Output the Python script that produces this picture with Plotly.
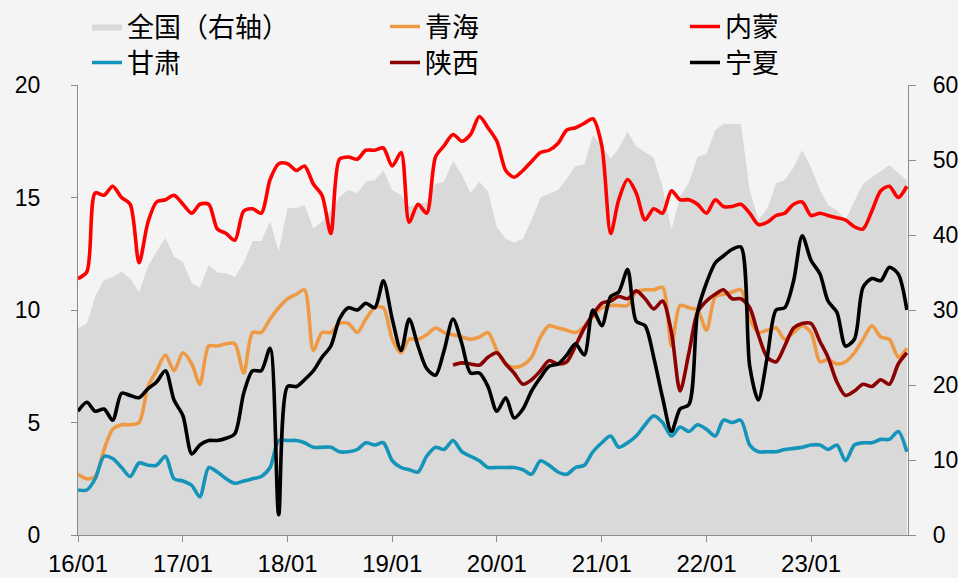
import pandas as pd
import plotly.graph_objects as go

dates = pd.date_range("2016-01-01", periods=96, freq="MS")

national = [27.6, 28.2, 31.8, 34.0, 34.4, 35.1, 34.2, 32.4, 35.8, 37.8, 39.6, 37.1,
            36.4, 33.6, 33.0, 36.0, 35.0, 34.9, 34.4, 36.3, 39.2, 39.2, 41.8, 37.8,
            43.6, 43.6, 44.0, 40.9, 41.8, 43.3, 45.1, 46.0, 45.6, 47.1, 47.3, 48.6,
            46.0, 45.3, 43.8, 44.1, 44.4, 46.8, 47.1, 49.9, 48.0, 45.6, 47.1, 45.8,
            41.0, 39.5, 39.0, 39.5, 42.0, 45.0, 45.5, 46.0, 47.5, 49.2, 49.4, 53.3,
            51.8, 50.2, 51.5, 53.8, 51.8, 51.0, 50.3, 46.4, 40.7, 45.1, 47.0, 50.4,
            50.8, 54.0, 54.8, 54.8, 54.8, 46.0, 42.0, 43.5, 46.9, 47.3, 49.0, 51.3,
            49.0, 46.0, 44.0, 43.3, 42.0, 44.5, 46.8, 47.7, 48.5, 49.3, 48.3, 47.3]

qinghai = [2.7, 2.5, 2.6, 3.8, 4.7, 4.9, 4.9, 5.0, 6.6, 7.3, 8.0, 7.3,
           8.1, 7.6, 6.7, 8.4, 8.4, 8.5, 8.5, 7.2, 9.0, 9.0, 9.6, 10.1,
           10.5, 10.7, 10.9, 8.2, 9.0, 9.0, 9.4, 9.4, 9.0, 9.6, 10.1, 10.1,
           8.7, 8.1, 8.7, 8.7, 8.9, 9.2, 9.0, 8.9, 8.8, 8.7, 8.8, 9.0,
           8.2, 7.6, 7.45, 7.55, 7.9, 8.8, 9.3, 9.2, 9.1, 9.0, 9.25, 9.7,
           10.1, 10.2, 10.2, 10.2, 10.8, 10.9, 10.9, 11.0, 8.4, 10.2, 10.1, 10.0,
           9.1, 10.6, 10.7, 10.8, 10.9, 9.6, 9.0, 9.1, 9.2, 8.7, 9.0, 9.3,
           9.0, 7.7, 7.8, 7.6, 7.7, 8.1, 8.7, 9.3, 8.8, 8.7, 7.9, 8.3]

neimeng = [11.4, 11.7, 15.2, 15.1, 15.5, 15.0, 14.7, 12.1, 13.9, 14.8, 14.9, 15.1,
           14.7, 14.3, 14.7, 14.7, 13.6, 13.4, 13.1, 14.4, 14.5, 14.3, 15.8, 16.5,
           16.5, 16.2, 16.4, 15.6, 15.1, 13.4, 16.7, 16.8, 16.7, 17.1, 17.1, 17.2,
           16.4, 17.0, 13.9, 14.7, 14.3, 16.8, 17.3, 17.8, 17.5, 17.8, 18.6, 18.1,
           17.5, 16.2, 15.9, 16.2, 16.6, 17.0, 17.1, 17.4, 18.0, 18.1, 18.3, 18.5,
           17.3, 13.4, 14.9, 15.8, 15.2, 14.0, 14.5, 14.3, 15.3, 14.9, 14.9, 14.7,
           14.3, 14.9, 14.6, 14.6, 14.7, 14.3, 13.8, 13.9, 14.2, 14.3, 14.7, 14.8,
           14.2, 14.3, 14.2, 14.1, 14.0, 13.7, 13.6, 14.4, 15.3, 15.5, 15.0, 15.5]

gansu = [2.0, 2.0, 2.5, 3.5, 3.4, 3.0, 2.6, 3.2, 3.1, 3.1, 3.5, 2.5,
         2.4, 2.2, 1.7, 3.0, 2.8, 2.5, 2.3, 2.4, 2.5, 2.6, 3.0, 4.2,
         4.2, 4.2, 4.1, 3.9, 3.9, 3.9, 3.7, 3.7, 3.8, 4.1, 4.0, 4.1,
         3.3, 3.0, 2.9, 2.8, 3.5, 3.9, 3.8, 4.2, 3.7, 3.5, 3.3, 3.0,
         3.0, 3.0, 3.0, 2.9, 2.7, 3.3, 3.1, 2.8, 2.7, 3.0, 3.1, 3.7,
         4.1, 4.4, 3.9, 4.1, 4.4, 4.9, 5.3, 5.0, 4.4, 4.8, 4.6, 4.9,
         4.7, 4.4, 5.1, 5.0, 5.1, 4.0, 3.7, 3.7, 3.7, 3.8, 3.85, 3.9,
         4.0, 4.0, 3.8, 4.0, 3.3, 4.0, 4.1, 4.1, 4.25, 4.25, 4.6, 3.7]

shaanxi = [None] * 43 + [
    7.55, 7.65, 7.6, 7.55, 7.9,
    8.1, 7.6, 7.2, 6.7, 6.9, 7.3, 7.75, 7.6, 7.7, 8.4, 9.2, 9.8,
    10.3, 10.4, 10.6, 10.5, 10.85, 10.5, 10.05, 10.4, 9.0, 6.4, 8.1, 9.9,
    10.4, 10.7, 10.9, 10.5, 10.5, 10.1, 8.9, 7.9, 7.7, 8.4, 9.2, 9.4,
    9.4, 8.6, 7.9, 6.8, 6.2, 6.4, 6.7, 6.6, 6.9, 6.7, 7.6, 8.1]

ningxia = [5.5, 5.9, 5.5, 5.6, 5.1, 6.3, 6.2, 6.1, 6.5, 6.8, 7.3, 6.0,
           5.3, 3.6, 4.0, 4.2, 4.2, 4.3, 4.5, 6.3, 7.3, 7.3, 8.3, 0.9,
           6.6, 6.6, 6.9, 7.3, 7.9, 8.4, 9.6, 10.1, 10.0, 10.3, 10.1, 11.3,
           9.6, 8.2, 9.6, 8.4, 7.4, 7.1, 8.2, 9.6, 8.5, 7.2, 7.2, 6.6,
           5.5, 6.1, 5.2, 5.6, 6.4, 7.0, 7.5, 7.6, 8.0, 8.5, 8.0, 10.0,
           9.3, 10.6, 10.8, 11.8, 9.5, 9.3, 7.9, 6.1, 4.6, 5.6, 5.8, 9.9,
           11.2, 12.1, 12.4, 12.7, 12.8, 7.5, 6.0, 7.9, 10.0, 10.1, 11.3, 13.3,
           12.2, 11.6, 10.4, 9.9, 8.4, 8.7, 11.0, 11.4, 11.3, 11.9, 11.6, 10.0]

line_series = [
    ("青海", qinghai, "#EE9A45", "legend2"),
    ("内蒙", neimeng, "#FF0000", "legend3"),
    ("甘肃", gansu, "#1494B8", "legend4"),
    ("陕西", shaanxi, "#8B0000", "legend5"),
    ("宁夏", ningxia, "#000000", "legend6"),
]

fig = go.Figure()
fig.add_trace(go.Scatter(
    x=dates, y=national, name="全国（右轴）", yaxis="y",
    mode="lines", fill="tozeroy", fillcolor="#D9D9D9",
    line=dict(width=0, color="#D9D9D9"), legend="legend"))

for name, vals, color, leg in line_series:
    fig.add_trace(go.Scatter(
        x=dates, y=vals, name=name, mode="lines", yaxis="y2",
        line=dict(color=color, width=3.6, shape="spline", smoothing=0.8),
        connectgaps=False, legend=leg))

W, H = 958, 578
leg_font = dict(family="Noto Sans CJK SC", size=27, color="#000000")
row_py = [27, 63]
col_px = [87, 385, 685]
legend_names = ["legend", "legend2", "legend3", "legend4", "legend5", "legend6"]
legend_layout = {}
for i, ln in enumerate(legend_names):
    px = col_px[i % 3]
    py = row_py[i // 3]
    legend_layout[ln] = dict(x=px / W, y=1 - py / H, xref="container",
                             yref="container", xanchor="left",
                             yanchor="middle", bgcolor="rgba(0,0,0,0)",
                             font=leg_font, itemwidth=30)

axis_color = "#8C8C8C"
xtick_font = dict(family="Liberation Sans", size=24, color="#000000")
ytick_font = dict(family="Liberation Sans", size=23, color="#000000")

fig.update_layout(
    width=W, height=H,
    margin=dict(l=78, r=50, t=85, b=43, autoexpand=False),
    paper_bgcolor="#F4F4F4", plot_bgcolor="#F4F4F4",
    showlegend=True,
    xaxis=dict(
        range=["2016-01-01", "2023-12-05"], tickformat="%y/%m",
        tick0="2016-01-01", dtick="M12", ticks="outside", ticklen=6,
        tickcolor=axis_color, showline=True, linecolor=axis_color,
        linewidth=1.2, showgrid=False, zeroline=False, tickfont=xtick_font,
        automargin=False, ticklabelstandoff=1),
    yaxis=dict(
        range=[0, 60], dtick=10, side="right",
        ticks="outside", ticklen=7, tickcolor=axis_color, showline=True,
        linecolor=axis_color, linewidth=1.2, showgrid=False, zeroline=False,
        tickfont=ytick_font, automargin=False, ticklabelstandoff=12),
    yaxis2=dict(
        range=[0, 20], dtick=5, overlaying="y", side="left",
        ticks="outside", ticklen=6, tickcolor=axis_color, showline=True,
        linecolor=axis_color, linewidth=1.2, showgrid=False, zeroline=False,
        tickfont=ytick_font, automargin=False, ticklabelstandoff=26),
    **legend_layout,
)

fig.write_html(
    "out.html",
    config={"displayModeBar": False},
    post_script="document.body.style.margin='0';"
                "document.body.style.background='#F4F4F4';")
